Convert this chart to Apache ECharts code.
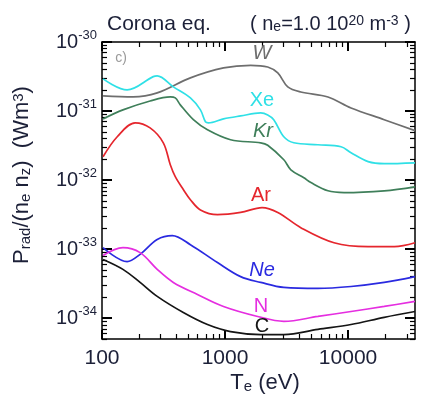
<!DOCTYPE html>
<html><head><meta charset="utf-8">
<script src="https://cdn.jsdelivr.net/npm/echarts@6/dist/echarts.min.js"></script>
<style>html,body{margin:0;padding:0;background:#fff}#c{width:421px;height:403px}</style>
</head><body><div id="c"></div>
<script>
// ---- data (T_e in eV, P_rad/(n_e n_z) in W m^3) ----
const xMin = 100, xMax = 35000, yMin = 5e-35, yMax = 1e-30;
const xMajor = [100, 1000, 10000];
const xMinor = [200,300,400,500,600,700,800,900,2000,3000,4000,5000,6000,7000,8000,9000,20000,30000];
const yMajor = [1e-34, 1e-33, 1e-32, 1e-31, 1e-30];
const yMinor = [5e-35,6e-35,7e-35,8e-35,9e-35,
  2e-34,3e-34,4e-34,5e-34,6e-34,7e-34,8e-34,9e-34,
  2e-33,3e-33,4e-33,5e-33,6e-33,7e-33,8e-33,9e-33,
  2e-32,3e-32,4e-32,5e-32,6e-32,7e-32,8e-32,9e-32,
  2e-31,3e-31,4e-31,5e-31,6e-31,7e-31,8e-31,9e-31];

const W  = [[102,1.66e-31],[179,1.60e-31],[281,1.83e-31],[523,3.02e-31],[972,4.21e-31],[1614,4.6e-31],[2223,4.35e-31],[2684,3.56e-31],[3236,2.24e-31],[4130,1.89e-31],[6866,1.60e-31],[10570,1.11e-31],[19670,7.5e-32],[35000,5.2e-32]];
const Xe = [[102,2.92e-31],[160,2.02e-31],[261,3.15e-31],[281,3.23e-31],[380,2.24e-31],[523,1.55e-31],[631,1.04e-31],[693,7.0e-32],[733,6.75e-32],[972,7.7e-32],[1339,8.5e-32],[1950,9.4e-32],[2223,8.8e-32],[2489,7.5e-32],[3005,4.24e-32],[3624,3.47e-32],[5689,3.25e-32],[8770,3.04e-32],[10570,2.49e-32],[14550,1.85e-32],[19670,1.73e-32],[35000,1.78e-32]];
const Kr = [[102,7.7e-32],[148,1.04e-31],[246,1.40e-31],[359,1.60e-31],[394,1.55e-31],[433,1.23e-31],[553,7.5e-32],[720,5.35e-32],[1109,3.84e-32],[1950,3.47e-32],[2223,3.2e-32],[3005,1.97e-32],[3428,1.41e-32],[4375,1.08e-32],[4989,9.2e-33],[6866,7.0e-33],[9270,6.6e-33],[19670,7.0e-33],[35000,8.0e-33]];
const Ar = [[102,2.18e-32],[133,4.24e-32],[186,6.75e-32],[246,5.7e-32],[315,3.47e-32],[359,1.67e-32],[394,1.12e-32],[458,7.3e-33],[523,5.2e-33],[631,3.7e-33],[868,3.16e-33],[1339,3.4e-33],[2000,4.0e-33],[2684,3.4e-33],[4130,2.05e-33],[7690,1.24e-33],[14550,1.09e-33],[23770,1.09e-33],[35000,1.24e-33]];
const Ne = [[102,1.05e-33],[160,6.6e-34],[204,8.4e-34],[281,1.38e-33],[373,1.57e-33],[523,1.16e-33],[868,6.4e-34],[1339,4.0e-34],[1950,3.3e-34],[3005,2.79e-34],[5689,2.70e-34],[10570,2.88e-34],[19670,3.3e-34],[35000,4.0e-34]];
const N  = [[102,8.1e-34],[148,1.05e-33],[204,8.9e-34],[281,5.1e-34],[380,3.3e-34],[597,2.21e-34],[972,1.48e-34],[1842,1.06e-34],[3005,9.0e-35],[5689,1.06e-34],[10570,1.25e-34],[19670,1.48e-34],[35000,1.75e-34]];
const C  = [[102,7.1e-34],[148,5.1e-34],[204,3.3e-34],[281,2.07e-34],[458,1.21e-34],[720,8.1e-35],[1109,6.4e-35],[1950,5.8e-35],[3005,5.8e-35],[5689,6.9e-35],[10570,8.1e-35],[19670,1.03e-34],[35000,1.25e-34]];

const names  = ['W','Xe','Kr','Ar','Ne','N','C'];
const datas  = [W, Xe, Kr, Ar, Ne, N, C];
const colors = ['#6e6e6e','#2fe0e6','#3f7f5a','#e5262d','#2a2ae0','#e52ee0','#151515'];

const FONT = '"Liberation Sans", Arial, Helvetica, sans-serif';
const TXT = '#1c2038';
const L = Math.log10;
const chart = echarts.init(document.getElementById('c'), null, {renderer:'canvas'});

// x: the series use a (hidden) log axis; y: decades axis (log10 of P), since ECharts' log axis
// rounds ticks at ~1e-30 to zero. Visible tick/label axes run over log10 of the same ranges.
const xData = {type:'log', logBase:10, min:xMin, max:xMax, show:false, gridIndex:0};

function ax(isX, pos, major) {
  const o = {
    type:'value', min: isX?L(xMin):L(yMin), max: isX?L(xMax):L(yMax), gridIndex:0, position:pos,
    splitLine:{show:false},
    axisLine:{show:major, onZero:false, lineStyle:{color:'#000', width:1.5}},
    axisTick:{show:true, inside:true, length: major?(isX?9:10):5, lineStyle:{color:'#000', width: major?2:1.2},
              customValues: (isX?(major?xMajor:xMinor):(major?yMajor:yMinor)).map(L)},
    axisLabel:{show:false}
  };
  if (major && pos==='bottom') {
    o.axisLabel = {show:true, customValues:xMajor.map(L), fontSize:21, fontFamily:FONT, color:TXT, margin:9,
                   formatter:v=>String(Math.round(Math.pow(10, v)))};
  }
  if (major && pos==='left') {
    o.axisLabel = {show:true, customValues:yMajor.map(L), margin:5, color:TXT,
      formatter:v=>'{b|10}{s|' + Math.round(v) + '}',
      rich:{b:{fontSize:20, fontFamily:FONT, color:TXT, lineHeight:26, verticalAlign:'middle'},
            s:{fontSize:13, fontFamily:FONT, color:TXT, lineHeight:14, verticalAlign:'top'}}};
  }
  return o;
}

const series = names.map((n,i)=>({
  name:n, type:'line', xAxisIndex:0, yAxisIndex:0,
  data: datas[i].map(d => [d[0], L(d[1])]), smooth:0.35,
  showSymbol:false, symbol:'none', lineStyle:{color:colors[i], width:1.7}, itemStyle:{color:colors[i]}, z:3
}));

const labelPos = {W:[262,53,true], Xe:[262,100,false], Kr:[263,131,true], Ar:[261,195,false], Ne:[262,270,true], N:[261,306,false], C:[262,326,false]};
const graphics = names.map((n,i)=>({
  type:'text', x:labelPos[n][0], y:labelPos[n][1], z:10,
  style:{text:n, fill:colors[i], fontSize:20, fontFamily:FONT, fontStyle: labelPos[n][2]?'italic':'normal',
         align:'center', verticalAlign:'middle'}
}));
graphics.push({type:'text', x:121, y:58, z:10, style:{text:'c)', fill:'#9a9a9a', fontSize:14, fontFamily:FONT, align:'center', verticalAlign:'middle'}});
graphics.push({type:'text', x:107, y:24, z:10, style:{text:'Corona eq.', fill:TXT, fontSize:21, fontFamily:FONT, align:'left', verticalAlign:'middle'}});
graphics.push({type:'text', x:250, y:24, z:10, style:{
  text:'( n{sub|e}=1.0 10{sup|20} m{sup|-3} )', fill:TXT, fontSize:20, fontFamily:FONT, align:'left', verticalAlign:'middle',
  rich:{sub:{fontSize:14, fontFamily:FONT, fill:TXT, lineHeight:14, verticalAlign:'bottom'},
        sup:{fontSize:14, fontFamily:FONT, fill:TXT, lineHeight:14, verticalAlign:'top'}}}});
graphics.push({type:'text', x:265, y:383, z:10, style:{
  text:'T{sub|e} (eV)', fill:TXT, fontSize:22, fontFamily:FONT, align:'center', verticalAlign:'middle',
  rich:{sub:{fontSize:15, fontFamily:FONT, fill:TXT, lineHeight:15, verticalAlign:'bottom'}}}});
graphics.push({type:'text', x:22, y:175, rotation:Math.PI/2, z:10, style:{
  text:'P{sub|rad}/(n{sub|e} n{sub|z})  (Wm{sup|3})', fill:TXT, fontSize:22, fontFamily:FONT, align:'center', verticalAlign:'middle',
  rich:{sub:{fontSize:15, fontFamily:FONT, fill:TXT, lineHeight:15, verticalAlign:'bottom'},
        sup:{fontSize:15, fontFamily:FONT, fill:TXT, lineHeight:15, verticalAlign:'top'}}}});

chart.setOption({
  animation:false,
  backgroundColor:'#fff',
  grid:{left:102, right:6, top:42, bottom:64},
  xAxis:[xData, ax(true,'bottom',true), ax(true,'bottom',false), ax(true,'top',true), ax(true,'top',false)],
  yAxis:[ax(false,'left',true), ax(false,'left',false), ax(false,'right',true), ax(false,'right',false)],
  series: series,
  graphic: graphics
});
</script></body></html>
